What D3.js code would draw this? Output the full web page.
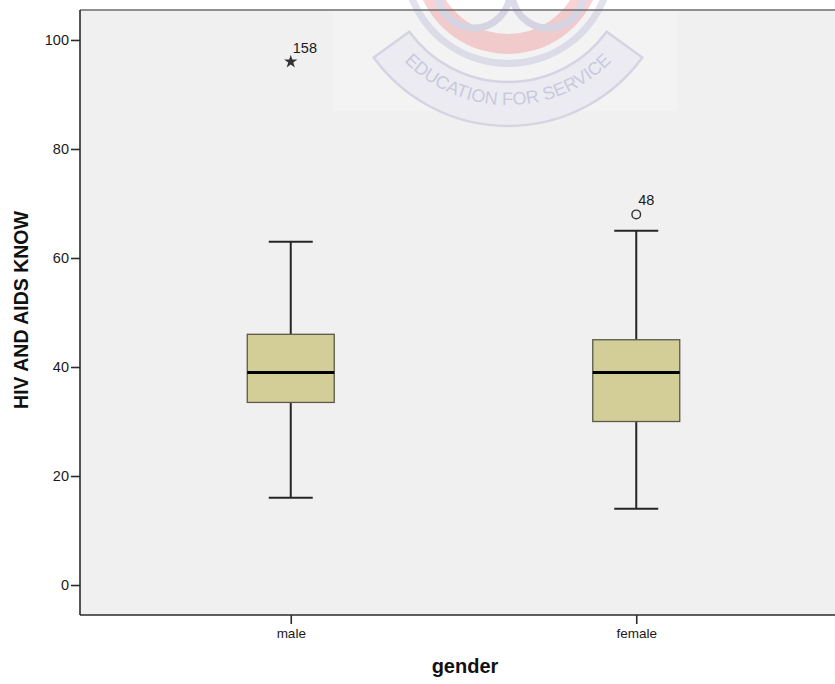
<!DOCTYPE html>
<html>
<head>
<meta charset="utf-8">
<script src="https://cdn.jsdelivr.net/npm/d3@7"></script>
<style>
html,body{margin:0;padding:0;background:#fff;}
svg{display:block;font-family:"Liberation Sans",Arial,sans-serif;}
</style>
</head>
<body>
<svg id="chart" width="835" height="684"></svg>
<script>
// ---- data ----
const categories = ["male", "female"];
const whiskerLow  = [16, 14];
const q1          = [33.5, 30];
const median      = [39, 39];
const q3          = [46, 45];
const whiskerHigh = [63, 65];
const outlierValues = [96, 68];
const outlierLabels = ["158", "48"];
const outlierKinds  = ["extreme", "outlier"];
const yTicks = [0, 20, 40, 60, 80, 100];
const yTitle = "HIV AND AIDS KNOW";
const xTitle = "gender";

const svg = d3.select("#chart");
const L = 80, T = 10, B = 615, R = 847, RV = 835;

const y = d3.scaleLinear().domain([-5.5, 105.5]).range([B, T]);
const x = d3.scalePoint().domain(categories).range([L, R]).padding(0.61);

// plot background
svg.append("rect").attr("x", L).attr("y", T).attr("width", RV - L).attr("height", B - T).attr("fill", "#f0f0f0");

// ---- faint watermark ----
const wm = svg.append("g").attr("opacity", 0.5);
wm.append("rect").attr("x", 333).attr("y", T).attr("width", 344).attr("height", 101).attr("fill", "#f7f7f7");
const cx = 508, cy = -40;
const arc = d3.arc();
wm.append("path").attr("transform", `translate(${cx},${cy})`)
  .attr("d", arc({innerRadius: 74, outerRadius: 94, startAngle: Math.PI*0.62, endAngle: Math.PI*1.38}))
  .attr("fill", "#f2a6aa");
wm.append("path").attr("transform", `translate(${cx},${cy})`)
  .attr("d", arc({innerRadius: 122, outerRadius: 166, startAngle: Math.PI*0.70, endAngle: Math.PI*1.30}))
  .attr("fill", "#e8e8f2").attr("stroke", "#b9b9d8").attr("stroke-width", 2.5);
wm.append("path").attr("transform", `translate(${cx},${cy})`)
  .attr("d", arc({innerRadius: 100, outerRadius: 107, startAngle: Math.PI*0.60, endAngle: Math.PI*1.40}))
  .attr("fill", "#c9c9e2");
[[474, -8], [548, -8]].forEach(c => {
  wm.append("circle").attr("cx", c[0]).attr("cy", c[1]).attr("r", 36)
    .attr("fill", "none").attr("stroke", "#b9b9d8").attr("stroke-width", 7);
});
const rText = 145;
wm.append("path").attr("id", "wmArc").attr("fill", "none")
  .attr("d", `M ${cx + rText*Math.cos(Math.PI*0.80)} ${cy + rText*Math.sin(Math.PI*0.80)} A ${rText} ${rText} 0 0 0 ${cx + rText*Math.cos(Math.PI*0.20)} ${cy + rText*Math.sin(Math.PI*0.20)}`);
wm.append("text").attr("font-size", 18).attr("fill", "#a3a3cc")
  .append("textPath").attr("href", "#wmArc").attr("startOffset", "50%").attr("text-anchor", "middle")
  .text("EDUCATION FOR SERVICE");

// ---- frame ----
svg.append("line").attr("x1", L).attr("x2", RV).attr("y1", T).attr("y2", T).attr("stroke", "#6e6e6e").attr("stroke-width", 1.5);
svg.append("line").attr("x1", L).attr("x2", RV).attr("y1", B).attr("y2", B).attr("stroke", "#2b2b2b").attr("stroke-width", 1.6);
svg.append("line").attr("x1", L).attr("x2", L).attr("y1", T).attr("y2", B).attr("stroke", "#2b2b2b").attr("stroke-width", 1.6);

// ---- axes ----
const yAxis = svg.append("g").attr("transform", `translate(${L},0)`)
  .call(d3.axisLeft(y).tickValues(yTicks).tickSize(9).tickPadding(2).tickFormat(d3.format("d")));
yAxis.select(".domain").remove();
yAxis.selectAll(".tick line").attr("stroke", "#2b2b2b").attr("stroke-width", 1.6);
yAxis.selectAll(".tick text").attr("font-size", 14.5).attr("fill", "#1a1a1a").attr("font-family", "'Liberation Sans',Arial,sans-serif");

const xAxis = svg.append("g").attr("transform", `translate(0,${B})`)
  .call(d3.axisBottom(x).tickSize(9).tickPadding(4));
xAxis.select(".domain").remove();
xAxis.selectAll(".tick line").attr("stroke", "#2b2b2b").attr("stroke-width", 1.6);
xAxis.selectAll(".tick text").attr("font-size", 13.5).attr("fill", "#1a1a1a").attr("font-family", "'Liberation Sans',Arial,sans-serif");

svg.append("text").attr("x", 465).attr("y", 673).attr("text-anchor", "middle")
  .attr("font-size", 20).attr("font-weight", "bold").attr("fill", "#111").text(xTitle);
svg.append("text").attr("transform", "translate(28,310) rotate(-90)").attr("text-anchor", "middle")
  .attr("font-size", 19.5).attr("font-weight", "bold").attr("fill", "#111").text(yTitle);

// ---- boxes ----
const boxW = 87, capW = 44;
const data = categories.map((c, i) => ({c, lo: whiskerLow[i], q1: q1[i], med: median[i], q3: q3[i], hi: whiskerHigh[i],
  out: outlierValues[i], lab: outlierLabels[i], kind: outlierKinds[i]}));
const g = svg.selectAll(".box").data(data).enter().append("g").attr("class", "box");
const wcol = "#262626";
g.append("line").attr("x1", d => x(d.c)).attr("x2", d => x(d.c)).attr("y1", d => y(d.hi)).attr("y2", d => y(d.q3)).attr("stroke", wcol).attr("stroke-width", 2);
g.append("line").attr("x1", d => x(d.c)).attr("x2", d => x(d.c)).attr("y1", d => y(d.q1)).attr("y2", d => y(d.lo)).attr("stroke", wcol).attr("stroke-width", 2);
g.append("line").attr("x1", d => x(d.c) - capW/2).attr("x2", d => x(d.c) + capW/2).attr("y1", d => y(d.hi)).attr("y2", d => y(d.hi)).attr("stroke", wcol).attr("stroke-width", 2);
g.append("line").attr("x1", d => x(d.c) - capW/2).attr("x2", d => x(d.c) + capW/2).attr("y1", d => y(d.lo)).attr("y2", d => y(d.lo)).attr("stroke", wcol).attr("stroke-width", 2);
g.append("rect").attr("x", d => x(d.c) - boxW/2).attr("width", boxW)
  .attr("y", d => y(d.q3)).attr("height", d => y(d.q1) - y(d.q3))
  .attr("fill", "#d3ce97").attr("stroke", "#5a5a4a").attr("stroke-width", 1.3);
g.append("line").attr("x1", d => x(d.c) - boxW/2).attr("x2", d => x(d.c) + boxW/2).attr("y1", d => y(d.med)).attr("y2", d => y(d.med)).attr("stroke", "#000").attr("stroke-width", 3);

// outliers
g.each(function(d) {
  const s = d3.select(this);
  if (d.kind === "extreme") {
    s.append("path").attr("transform", `translate(${x(d.c)},${y(d.out)})`)
      .attr("d", d3.symbol().type(d3.symbolStar).size(55)).attr("fill", "#333");
  } else {
    s.append("circle").attr("cx", x(d.c)).attr("cy", y(d.out)).attr("r", 4.3)
      .attr("fill", "none").attr("stroke", "#333").attr("stroke-width", 1.4);
  }
  s.append("text").attr("x", x(d.c) + 2).attr("y", y(d.out) - 9)
    .attr("font-size", 14.5).attr("fill", "#1a1a1a").text(d.lab);
});
</script>
</body>
</html>
